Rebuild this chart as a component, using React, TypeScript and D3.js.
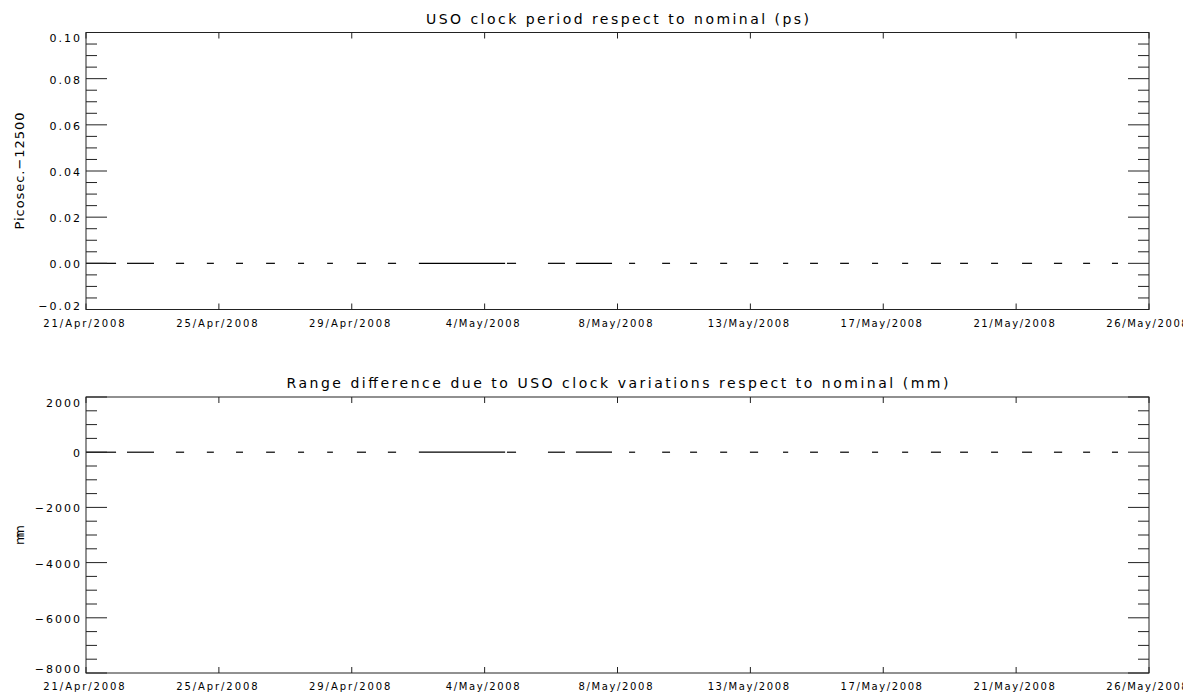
import React from 'react';
import * as d3 from 'd3';

const W = 1183;
const H = 696;
const FONT = '"DejaVu Sans", sans-serif';
const DAY_MS = 864e5;

// time span of the plot (UTC)
const startDate = new Date(Date.UTC(2008, 3, 21));
const endDate = new Date(Date.UTC(2008, 4, 26));

const xTickLabels = [
  '21/Apr/2008',
  '25/Apr/2008',
  '29/Apr/2008',
  '4/May/2008',
  '8/May/2008',
  '13/May/2008',
  '17/May/2008',
  '21/May/2008',
  '26/May/2008',
];

// tracking passes, days after 21/Apr/2008 00:00
const passStartDay = [
  0.0, 1.35, 2.96, 3.98, 4.94, 5.93, 6.98, 7.94, 8.92, 9.94, 10.96, 13.86,
  15.21, 16.13, 17.88, 18.97, 19.89, 20.88, 21.86, 22.95, 23.84, 24.83, 25.88,
  26.87, 27.82, 28.78, 29.8, 30.82, 31.87, 32.83, 33.78,
];
const passEndDay = [
  0.99, 2.24, 3.23, 4.21, 5.17, 6.22, 7.18, 8.13, 9.22, 10.21, 13.8, 14.16,
  15.77, 17.32, 18.08, 19.23, 20.12, 21.11, 22.13, 23.12, 24.1, 25.12, 26.08,
  27.07, 28.15, 29.04, 30.03, 31.15, 32.14, 33.06, 33.98,
];

// USO period minus 12500 ps, per pass
const periodPs = [
  0, 0, 0, 0, 0, 0, 0, 0, 0, 0, 0, 0, 0, 0, 0, 0, 0, 0, 0, 0, 0, 0, 0, 0, 0, 0,
  0, 0, 0, 0, 0,
];
// range difference (mm), per pass
const rangeMm = [
  0, 0, 0, 0, 0, 0, 0, 0, 0, 0, 0, 0, 0, 0, 0, 0, 0, 0, 0, 0, 0, 0, 0, 0, 0, 0,
  0, 0, 0, 0, 0,
];

const periodTicks = [-0.02, 0, 0.02, 0.04, 0.06, 0.08, 0.1];
const periodTickLabels = ['\u22120.02', '0.00', '0.02', '0.04', '0.06', '0.08', '0.10'];
const rangeTicks = [-8000, -6000, -4000, -2000, 0, 2000];
const rangeTickLabels = ['\u22128000', '\u22126000', '\u22124000', '\u22122000', '0', '2000'];

const left = 86;
const right = 1149;

const x = d3.scaleUtc().domain([startDate, endDate]).range([left, right]);
const toDate = (d: number) => new Date(startDate.getTime() + d * DAY_MS);
const xTicks = d3
  .range(xTickLabels.length)
  .map(
    (i) =>
      new Date(
        startDate.getTime() +
          (i * (endDate.getTime() - startDate.getTime())) / (xTickLabels.length - 1)
      )
  );

interface IPanelProps {
  top: number;
  bottom: number;
  title: string;
  titleY: number;
  titleLen: number;
  yLabel: string;
  yLabelLen: number;
  yLabelSize: number;
  ticks: number[];
  tickLabels: string[];
  values: number[];
}

const Panel = (props: IPanelProps) => {
  const {
    top,
    bottom,
    title,
    titleY,
    titleLen,
    yLabel,
    yLabelLen,
    yLabelSize,
    ticks,
    tickLabels,
    values,
  } = props;
  const y = d3
    .scaleLinear()
    .domain([ticks[0], ticks[ticks.length - 1]])
    .range([bottom, top]);

  // 3 minor ticks between majors
  const minor: number[] = [];
  for (let i = 0; i < ticks.length - 1; i++) {
    const step = (ticks[i + 1] - ticks[i]) / 4;
    for (let k = 1; k < 4; k++) minor.push(ticks[i] + k * step);
  }

  const line = d3
    .line<[Date, number]>()
    .x((d) => x(d[0]))
    .y((d) => y(d[1]));

  const labelOffset = (i: number) => {
    if (i === 0) return 0;
    if (i === ticks.length - 1) return 9.5;
    return 5;
  };

  return (
    <g>
      <text
        x={(left + right) / 2}
        y={titleY}
        textAnchor="middle"
        fontSize={14}
        textLength={titleLen}
        lengthAdjust="spacing"
      >
        {title}
      </text>

      {/* data */}
      <g stroke="#000" strokeWidth={1.2} fill="none">
        {passStartDay.map((s, i) => (
          <path
            key={i}
            d={
              line([
                [toDate(s), values[i]],
                [toDate(passEndDay[i]), values[i]],
              ]) || ''
            }
          />
        ))}
      </g>

      {/* frame */}
      <rect
        x={left}
        y={top}
        width={right - left}
        height={bottom - top}
        fill="none"
        stroke="#222"
        strokeWidth={1}
      />

      {/* ticks */}
      <g stroke="#222" strokeWidth={1}>
        {ticks.map((t, i) => (
          <g key={'M' + i}>
            <line x1={left} x2={left + 21} y1={y(t)} y2={y(t)} />
            <line x1={right} x2={right - 21} y1={y(t)} y2={y(t)} />
          </g>
        ))}
        {minor.map((t, i) => (
          <g key={'m' + i}>
            <line x1={left} x2={left + 11} y1={y(t)} y2={y(t)} />
            <line x1={right} x2={right - 11} y1={y(t)} y2={y(t)} />
          </g>
        ))}
        {xTicks.map((t, i) => (
          <g key={'x' + i}>
            <line x1={x(t)} x2={x(t)} y1={top} y2={top + 6} />
            <line x1={x(t)} x2={x(t)} y1={bottom} y2={bottom - 6} />
          </g>
        ))}
      </g>

      {/* y tick labels */}
      <g fontSize={11} letterSpacing={2} textAnchor="end">
        {ticks.map((t, i) => (
          <text key={i} x={left - 4} y={y(t) + labelOffset(i)}>
            {tickLabels[i]}
          </text>
        ))}
      </g>

      {/* x tick labels */}
      <g fontSize={10} textAnchor="middle">
        {xTicks.map((t, i) => (
          <text
            key={i}
            x={x(t) - 2}
            y={bottom + 17}
            textLength={xTickLabels[i].length * 7.4}
            lengthAdjust="spacing"
          >
            {xTickLabels[i]}
          </text>
        ))}
      </g>

      <text
        transform={`translate(24,${(top + bottom) / 2}) rotate(-90)`}
        textAnchor="middle"
        fontSize={yLabelSize}
        textLength={yLabelLen}
        lengthAdjust="spacing"
      >
        {yLabel}
      </text>
    </g>
  );
};

const App = () => {
  return (
    <svg
      width={W}
      height={H}
      viewBox={`0 0 ${W} ${H}`}
      style={{ position: 'absolute', left: 0, top: 0, background: '#fff' }}
      fontFamily={FONT}
      fill="#000"
    >
      <rect width={W} height={H} fill="#fff" />
      <Panel
        top={32.5}
        bottom={309.5}
        title="USO clock period respect to nominal (ps)"
        titleY={24}
        titleLen={383}
        yLabel={'Picosec.\u221212500'}
        yLabelLen={117}
        yLabelSize={13}
        ticks={periodTicks}
        tickLabels={periodTickLabels}
        values={periodPs}
      />
      <Panel
        top={397}
        bottom={673}
        title="Range difference due to USO clock variations respect to nominal (mm)"
        titleY={388}
        titleLen={662}
        yLabel="mm"
        yLabelLen={20}
        yLabelSize={13}
        ticks={rangeTicks}
        tickLabels={rangeTickLabels}
        values={rangeMm}
      />
    </svg>
  );
};

export default App;
